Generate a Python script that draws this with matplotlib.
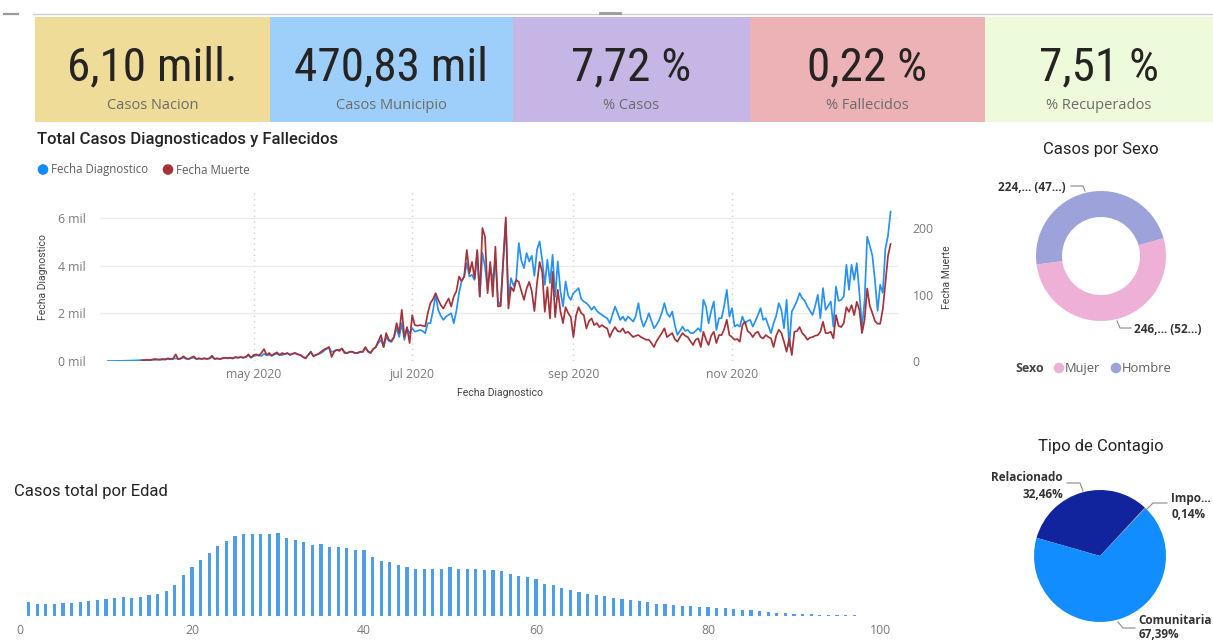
import numpy as np
import pandas as pd
import matplotlib
matplotlib.use("Agg")
import matplotlib.pyplot as plt
from matplotlib.patches import Rectangle, Circle
from matplotlib import font_manager as fm

# ---------------------------------------------------------------- data
kpi_values = [6.10e6, 470.83e3, 7.72, 0.22, 7.51]
kpi_kinds = ["mill", "mil", "pct", "pct", "pct"]
kpi_names = ["Casos Nacion", "Casos Municipio", "% Casos", "% Fallecidos", "% Recuperados"]
kpi_colors = ["#EEDC98", "#9ECFFA", "#C5B6E5", "#ECB2B6", "#EDFBDA"]

series_start = "2020-03-06"
cases_daily = [
    1, 0, 2, 3, 5, 4, 9, 11, 14, 17, 22, 27, 31,
    38, 45, 30, 52, 60, 48, 70, 66, 58, 85, 80, 72, 95,
    110, 80, 95, 150, 90, 85, 120, 140, 80, 100, 90, 110, 95, 105, 160,
    90, 100, 85, 110, 130, 115, 125, 105, 150, 135, 160, 140, 165, 230, 150,
    200, 230, 250, 210, 300, 240, 260, 220, 280, 300, 260, 250, 300, 320, 270, 300, 330, 280,
    252, 168, 126, 252, 378, 210, 252, 294, 336, 420, 504, 546, 378, 420, 462, 462,
    504, 378, 336, 378, 378, 336, 336, 378, 378, 546, 420, 336, 504, 588, 756, 882,
    588, 1008, 840, 798, 1008, 1373, 1008, 1583, 882, 1373, 1163, 1373, 1231, 1260,
    1302, 1260, 1163, 1583, 1583, 2100, 2772, 2142, 1890, 1722, 1861, 1932, 2003,
    1583, 2100, 2843, 3360, 3541, 4103, 3541, 3612, 3402, 4523, 2701, 4523, 3961,
    2982, 3961, 3360, 4242, 2520,
    2310, 4200, 5838, 2562, 3473, 3150, 3402, 4943, 4200, 3893, 4523, 4171, 4410,
    3570, 4662, 5011, 4242, 3192, 4242, 3263, 4452, 2701, 4171, 2940, 2281, 3331,
    2730, 2562, 2843, 2940, 3053, 2604, 2491, 2423, 2310, 2142, 2281, 2100, 2003,
    1932, 1848, 1793, 1583, 1932, 2281, 2016, 1722, 1861, 1680, 1861, 1764, 1651,
    1890, 2423, 1764, 1441, 1680, 2003, 1680, 1373, 1512, 1722, 2016, 2423, 2003,
    1848, 2071, 1512, 1092, 1260, 1441, 1260, 1302, 1176, 1163, 1260, 1373, 1231,
    2562, 2281, 1583, 2100, 2491, 1302, 1793, 1793, 2310, 2982, 1861, 2213, 1441,
    1512, 1441, 1861, 1583, 1680, 1722, 1441, 1680, 1932, 2213, 1722, 1793, 1470,
    1163, 1583, 1890, 2423, 2142, 1373, 2562, 601, 2071, 2281, 2520, 2843, 2633,
    2520, 2281, 2100, 1932, 2310, 2772, 1793, 3053, 2142, 2310, 2491, 1441, 3121,
    2520, 2562, 2701, 4032, 2982, 4032, 3402, 4103, 2843, 1441, 2520, 5208, 4830,
    4410, 3360, 2100, 3192, 2856, 4704, 5250, 6258,
]
nan = np.nan
deaths_daily = [
    nan, nan, nan, nan, nan, nan, nan, nan, nan, nan, nan, nan, nan,
    1, 1, 2, 1, 2, 3, 2, 2, 3, 2, 4, 3, 3,
    10, 3, 4, 7, 4, 3, 5, 7, 3, 4, 3, 4, 3, 4, 8,
    3, 4, 3, 4, 5, 4, 5, 4, 6, 5, 6, 5, 6, 10, 5,
    9, 10, 8, 12, 18, 9, 12, 8, 11, 13, 9, 12, 10, 12, 9, 11, 12, 10,
    9, 6, 4, 9, 14, 7, 9, 11, 14, 17, 19, 21, 6, 14, 17, 15,
    19, 12, 12, 14, 14, 12, 12, 14, 14, 21, 14, 12, 18, 21, 30, 39,
    21, 42, 32, 30, 36, 57, 42, 77, 36, 51, 27, 69, 54, 53,
    54, 53, 52, 72, 87, 93, 102, 92, 84, 79, 87, 94, 82,
    97, 105, 127, 120, 127, 167, 132, 149, 124, 167, 97, 200, 187,
    102, 149, 97, 172, 82,
    83, 150, 216, 79, 111, 105, 122, 119, 105, 92, 109, 119, 105,
    75, 117, 149, 134, 74, 111, 64, 134, 66, 107, 75, 57, 81,
    72, 66, 36, 68, 81, 72, 69, 49, 60, 64, 54, 57, 51,
    54, 51, 49, 36, 45, 51, 45, 44, 49, 42, 44, 40, 36,
    38, 39, 36, 34, 32, 32, 27, 21, 30, 36, 42, 49, 36,
    39, 42, 33, 29, 36, 42, 38, 36, 30, 24, 32, 34, 21,
    44, 32, 24, 38, 44, 27, 39, 39, 48, 62, 39, 36, 32,
    33, 29, 54, 59, 45, 42, 36, 42, 44, 36, 34, 39, 36,
    34, 21, 38, 47, 42, 29, 14, 34, 9, 44, 45, 51, 42,
    38, 32, 35, 36, 38, 39, 44, 59, 42, 42, 44, 34, 69,
    53, 51, 57, 81, 74, 84, 69, 89, 77, 42, 62, 109, 83,
    72, 60, 56, 56, 78, 117, 158, 176,
]
month_ticks = ["2020-05-01", "2020-07-01", "2020-09-01", "2020-11-01"]
month_labels = ["may 2020", "jul 2020", "sep 2020", "nov 2020"]
cases_ticks = [0, 2000, 4000, 6000]
cases_tick_labels = ["0 mil", "2 mil", "4 mil", "6 mil"]
deaths_ticks = [0, 100, 200]

sexo_labels = ["Mujer", "Hombre"]
sexo_values = [246530, 224300]
sexo_colors = ["#EFB0D7", "#9EA2DA"]

contagio_labels = ["Relacionado", "Importado", "Comunitaria"]
contagio_values = [152850, 678, 317302]
contagio_colors = ["#12239E", "#E66C37", "#118DFF"]

edad_casos = [
    1960, 1640, 1640, 1720, 1820, 1860, 1920, 2100, 2200, 2380,
    2480, 2620, 2560, 2700, 2900, 3120, 3460, 4380, 5700, 6900,
    7880, 8860, 9800, 10540, 11240, 11440, 11520, 11520, 11530, 11660,
    10920, 10600, 10360, 9980, 10120, 9660, 9650, 9560, 9200, 9190,
    8300, 7700, 7600, 7100, 6860, 6620, 6620, 6610, 6540, 6820,
    6580, 6570, 6540, 6510, 6400, 6300, 5880, 5560, 5420, 5140,
    4520, 4300, 3960, 3680, 3360, 3120, 2900, 2760, 2560, 2420,
    2240, 2060, 1920, 1720, 1680, 1540, 1400, 1360, 1300, 1260,
    1120, 1080, 1020, 840, 800, 660, 600, 460, 420, 320,
    280, 240, 180, 140, 130, 95, 80, 55, 40, 35, 25,
]
edad = list(range(1, len(edad_casos) + 1))
edad_ticks = [0, 20, 40, 60, 80, 100]

# ---------------------------------------------------------------- fonts
installed = {f.name for f in fm.fontManager.ttflist}


def pick(*names):
    return next((n for n in names if n in installed), "DejaVu Sans")


F_NUM = pick("Liberation Sans Narrow", "Roboto Condensed", "Roboto")
F_HEAD = pick("Roboto", "Lato", "Noto Sans")
F_UI = pick("Open Sans", "Noto Sans", "Lato")
NUM_SIZE = 34 if F_NUM != "Roboto" else 29

DARK = "#252423"
GREY = "#605E5C"
LIGHT = "#7A7A7A"

# ---------------------------------------------------------------- canvas
W, H = 1213, 641
fig = plt.figure(figsize=(W / 100, H / 100), dpi=100)
fig.patch.set_facecolor("white")


def px_axes(x0, y0, x1, y1, z=1):
    a = fig.add_axes([x0 / W, 1 - y1 / H, (x1 - x0) / W, (y1 - y0) / H])
    a.set_zorder(z)
    a.patch.set_alpha(0)
    return a


bg = px_axes(0, 0, W, H, z=0)
bg.set_xlim(0, W)
bg.set_ylim(H, 0)
bg.axis("off")

# header rule and handle
bg.plot([33, W], [14, 14], color="#CFCFCF", lw=1.0)
bg.plot([4, 18], [14, 14], color="#9A9A9A", lw=1.6)
bg.plot([600, 620], [13, 13], color="#9A9A9A", lw=2.0)


def fmt_kpi(v, kind):
    if kind == "mill":
        return f"{v / 1e6:.2f}".replace(".", ",") + " mill."
    if kind == "mil":
        return f"{v / 1e3:.2f}".replace(".", ",") + " mil"
    return f"{v:.2f}".replace(".", ",") + " %"


card_edges = [35, 270, 513, 750, 985, 1213]
for i, (val, kind, name, col) in enumerate(zip(kpi_values, kpi_kinds, kpi_names, kpi_colors)):
    x0, x1 = card_edges[i], card_edges[i + 1]
    bg.add_patch(Rectangle((x0, 17), x1 - x0, 105, facecolor=col, edgecolor="none"))
    cx = (x0 + x1) / 2 if i < 4 else 1099
    bg.text(cx, 80, fmt_kpi(val, kind), ha="center", va="baseline",
            fontsize=NUM_SIZE, color=DARK, family=F_NUM)
    bg.text(cx, 109, name, ha="center", va="baseline", fontsize=10.5,
            color="#6B6B6B", family=F_UI)

# ---------------------------------------------------------------- line chart
bg.text(37, 144, "Total Casos Diagnosticados y Fallecidos", ha="left", va="baseline",
        fontsize=12, color=DARK, family=F_HEAD, fontweight="medium")
bg.add_patch(Circle((43, 169.5), 4.6, color="#118DFF"))
bg.text(51, 173.5, "Fecha Diagnostico", ha="left", va="baseline", fontsize=8.3,
        color=GREY, family=F_UI)
bg.add_patch(Circle((168, 169.5), 4.6, color="#A4343A"))
bg.text(176, 173.5, "Fecha Muerte", ha="left", va="baseline", fontsize=8.3,
        color=GREY, family=F_UI)

dates = pd.date_range(series_start, periods=len(cases_daily), freq="D")
ax = px_axes(100, 190, 898, 361, z=2)
ax2 = ax.twinx()
ax2.set_zorder(3)
ax2.patch.set_alpha(0)

ax.plot(dates, cases_daily, color="#2892F2", lw=1.25, solid_joinstyle="round")
ax2.plot(dates, deaths_daily, color="#A4343A", lw=1.25, solid_joinstyle="round")

ax.set_xlim(dates[0] - pd.Timedelta(days=3.08), dates[0] + pd.Timedelta(days=303.85))
ax.set_ylim(0, 7165)
ax2.set_ylim(0, 257.2)

ax.set_xticks(pd.to_datetime(month_ticks))
ax.set_xticklabels(month_labels)
ax.set_yticks(cases_ticks)
ax.set_yticklabels(cases_tick_labels)
ax2.set_yticks(deaths_ticks)
ax2.set_yticklabels([str(t) for t in deaths_ticks])

for a in (ax, ax2):
    for s in a.spines.values():
        s.set_visible(False)
    a.tick_params(length=0, labelsize=8.8, labelcolor=LIGHT)
    for lab in a.get_xticklabels() + a.get_yticklabels():
        lab.set_family(F_UI)
ax.tick_params(axis="y", pad=10.5)
ax.tick_params(axis="x", pad=5)
ax2.tick_params(axis="y", pad=10.5)

ax.grid(True, axis="y", color="#EBEBEB", lw=0.9)
ax.grid(True, axis="x", color="#CFCFCF", lw=1.0, ls=(0, (1, 3)))
ax.set_axisbelow(True)

bg.text(43, 277, "Fecha Diagnostico", rotation=90, ha="center", va="center",
        fontsize=7.5, color="#444444", family=F_HEAD)
bg.text(947, 277, "Fecha Muerte", rotation=90, ha="center", va="center",
        fontsize=7.5, color="#444444", family=F_HEAD)
bg.text(500, 396, "Fecha Diagnostico", ha="center", va="baseline",
        fontsize=7.5, color="#444444", family=F_HEAD)

# ---------------------------------------------------------------- donut: sexo
bg.text(1101, 154, "Casos por Sexo", ha="center", va="baseline", fontsize=12,
        color=DARK, family=F_HEAD)
axd = px_axes(1036, 191, 1166, 321, z=2)
axd.pie(sexo_values, colors=sexo_colors, startangle=16, counterclock=False,
        radius=1.0, wedgeprops=dict(width=0.4, edgecolor="none"))
axd.set_xlim(-1, 1)
axd.set_ylim(-1, 1)
axd.set_aspect("equal")
axd.axis("off")

sexo_total = sum(sexo_values)


def short_label(v):
    return f"{v // 1000},... ({int(100 * v / sexo_total)}...)"


bg.text(1066, 191, short_label(sexo_values[1]), ha="right", va="baseline",
        fontsize=8.5, color="#333333", family=F_UI, fontweight="bold")
bg.plot([1071, 1083, 1085], [186, 186, 191], color="#8A8A8A", lw=0.8)
bg.text(1134, 333, short_label(sexo_values[0]), ha="left", va="baseline",
        fontsize=8.5, color="#333333", family=F_UI, fontweight="bold")
bg.plot([1117, 1120, 1131], [321, 328, 328], color="#8A8A8A", lw=0.8)

bg.text(1015, 372, "Sexo", ha="left", va="baseline", fontsize=9, color="#444444",
        family=F_UI, fontweight="bold")
bg.add_patch(Circle((1059, 368), 4.6, color=sexo_colors[0]))
bg.text(1065, 372, sexo_labels[0], ha="left", va="baseline", fontsize=9.3,
        color=GREY, family=F_UI)
bg.add_patch(Circle((1116, 368), 4.6, color=sexo_colors[1]))
bg.text(1122, 372, sexo_labels[1], ha="left", va="baseline", fontsize=9.3,
        color=GREY, family=F_UI)

# ---------------------------------------------------------------- pie: contagio
bg.text(1101, 451, "Tipo de Contagio", ha="center", va="baseline", fontsize=12,
        color=DARK, family=F_HEAD)
axp = px_axes(1034, 490, 1166, 622, z=2)
axp.pie(contagio_values, colors=contagio_colors, startangle=164, counterclock=False,
        radius=1.0, wedgeprops=dict(edgecolor="none"))
axp.set_xlim(-1, 1)
axp.set_ylim(-1, 1)
axp.set_aspect("equal")
axp.axis("off")

contagio_total = sum(contagio_values)
pct = [f"{100 * v / contagio_total:.2f}".replace(".", ",") + "%" for v in contagio_values]
lab_kw = dict(fontsize=8.5, color="#333333", family=F_UI, fontweight="bold")
bg.text(1063, 481, contagio_labels[0], ha="right", va="baseline", **lab_kw)
bg.text(1063, 498, pct[0], ha="right", va="baseline", **lab_kw)
bg.plot([1067, 1080, 1083], [483, 483, 491], color="#8A8A8A", lw=0.8)
bg.text(1171, 502, contagio_labels[1][:4] + "...", ha="left", va="baseline", **lab_kw)
bg.text(1172, 518, pct[1], ha="left", va="baseline", **lab_kw)
bg.plot([1147, 1153, 1167], [509, 503, 503], color="#8A8A8A", lw=0.8)
bg.text(1138, 624, contagio_labels[2], ha="left", va="baseline", **lab_kw)
bg.text(1139, 638.5, pct[2], ha="left", va="baseline", **lab_kw)
bg.plot([1118, 1123, 1135], [622, 628, 628], color="#8A8A8A", lw=0.8)

# ---------------------------------------------------------------- bars: edad
bg.text(14, 496, "Casos total por Edad", ha="left", va="baseline", fontsize=12,
        color=DARK, family=F_HEAD)
axb = px_axes(12, 520, 900, 616, z=2)
axb.bar(edad, edad_casos, width=0.38, color="#4E9DE8")
axb.set_xlim(-0.93, 102.33)
axb.set_ylim(0, 13440)
axb.set_yticks([])
axb.set_xticks(edad_ticks)
axb.set_xticklabels([str(t) for t in edad_ticks])
axb.tick_params(axis="x", length=0, pad=6, labelsize=8.8, labelcolor=LIGHT)
for lab in axb.get_xticklabels():
    lab.set_family(F_UI)
for s in axb.spines.values():
    s.set_visible(False)

fig.savefig("out.png", dpi=100, facecolor="white")
